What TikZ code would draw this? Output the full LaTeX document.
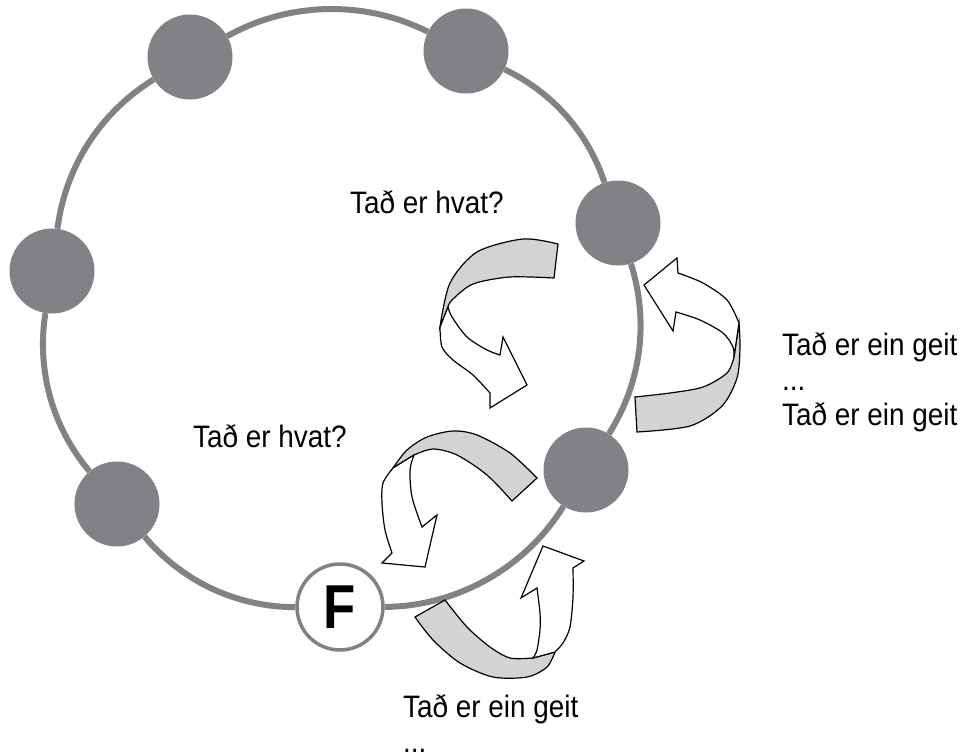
\documentclass[tikz,border=0pt]{standalone}
\usepackage{fontspec}
\setmainfont{Liberation Sans}[FakeStretch=0.9]
\newfontfamily\Ffont{Liberation Sans}[FakeStretch=0.85]
\definecolor{ringgrey}{HTML}{808285}
\definecolor{bandgrey}{HTML}{D1D3D4}
\begin{document}
\begin{tikzpicture}[x=1pt,y=-1pt,
 dot/.style={circle,fill=ringgrey,minimum size=85pt,inner sep=0pt},
 fnode/.style={circle,fill=white,draw=ringgrey,line width=3.5pt,minimum size=86pt,inner sep=0pt,font=\Ffont\bfseries\fontsize{62}{62}\selectfont},
 ring/.style={draw=ringgrey,line width=6pt},
 band/.style={fill=bandgrey,draw=black,line width=1.2pt,line join=miter},
 front/.style={fill=white,draw=black,line width=1.2pt,line join=miter},
 lbl/.style={anchor=base west,inner sep=0pt,align=left,font=\fontsize{31}{35}\selectfont}]
\useasboundingbox (0,0) rectangle (967,755);
% ring nodes
\node[dot] (n1) at (190,57) {};
\node[dot] (n2) at (466,51) {};
\node[dot] (n5) at (618,223) {};
\node[dot] (n6) at (586,470) {};
\node[fnode] (f) at (340,607) {F};
\node[dot] (n4) at (117,504) {};
\node[dot] (n3) at (52,271) {};
% ring
\draw[ring] (n1) to[bend left=28,looseness=0.9] (n2);
\draw[ring] (n2) to[bend left=23,looseness=0.9] (n5);
\draw[ring] (n5) to[bend left=25,looseness=0.9] (n6);
\draw[ring] (n6) to[bend left=29,looseness=0.9] (f);
\draw[ring] (f) to[bend left=25,looseness=0.9] (n4);
\draw[ring] (n4) to[bend left=24.5,looseness=0.9] (n3);
\draw[ring] (n3) to[bend left=25.5,looseness=0.9] (n1);
% arrow A
\filldraw[band] plot[smooth] coordinates {(558,244) (523,239) (477,252) (450,283) (440,327)}
  -- plot[smooth] coordinates {(448,307) (452,300) (473,284) (510,277) (554,278)} -- cycle;
\filldraw[front] plot[smooth] coordinates {(448,307) (452,317) (467,337) (487,350) (500,355)}
  -- (503,337) -- (527,385) -- (490,408) --
  plot[smooth] coordinates {(490,393) (473,375) (453,360) (442,347) (440,327)} -- cycle;
% arrow B
\filldraw[band] plot[smooth] coordinates {(739,323) (740,348) (737,378) (722,406) (690,426) (637,432)}
  -- plot[smooth] coordinates {(635,397) (670,393) (703,387) (727,373) (734,357)} -- cycle;
\filldraw[front] plot[smooth] coordinates {(678,273) (703,283) (727,300) (739,323)}
  -- plot[smooth] coordinates {(734,357) (733,347) (723,333) (700,320) (676,312)}
  -- (673,331) -- (644,285) -- (677,258) -- cycle;
% arrow C
\filldraw[band] plot[smooth] coordinates {(537,478) (510,453) (477,435) (453,431) (427,437) (407,450) (393,468)}
  -- plot[smooth] coordinates {(414,455) (433,449) (457,455) (487,475) (512,501)} -- cycle;
\filldraw[front] plot[smooth] coordinates {(414,455) (410,470) (412,497) (422,527)}
  -- (437,515) -- (425,567) -- (382,563) --
  plot[smooth] coordinates {(392,553) (385,530) (382,503) (383,483) (393,468)} -- cycle;
% arrow D
\filldraw[band] plot[smooth] coordinates {(415,617) (433,640) (460,663) (493,677) (527,677) (547,667) (555,652)}
  -- plot[smooth] coordinates {(533,658) (510,658) (490,647) (467,627) (445,600)} -- cycle;
\filldraw[front] plot[smooth] coordinates {(533,658) (537,650) (540,630) (540,613) (537,588)}
  -- (521,598) -- (543,546) -- (584,561) --
  plot[smooth] coordinates {(573,568) (573,597) (570,627) (563,643) (555,652)} -- cycle;
% labels (base anchor = baseline of the last line)
\node[lbl] (q1) at (350,213) {Tað er hvat?};
\node[lbl] (q2) at (193,447) {Tað er hvat?};
\node[lbl] (a1) at (782,425) {Tað er ein geit\\...\\Tað er ein geit};
\node[lbl] (a2) at (403,752) {Tað er ein geit\\...};
\end{tikzpicture}
\end{document}
